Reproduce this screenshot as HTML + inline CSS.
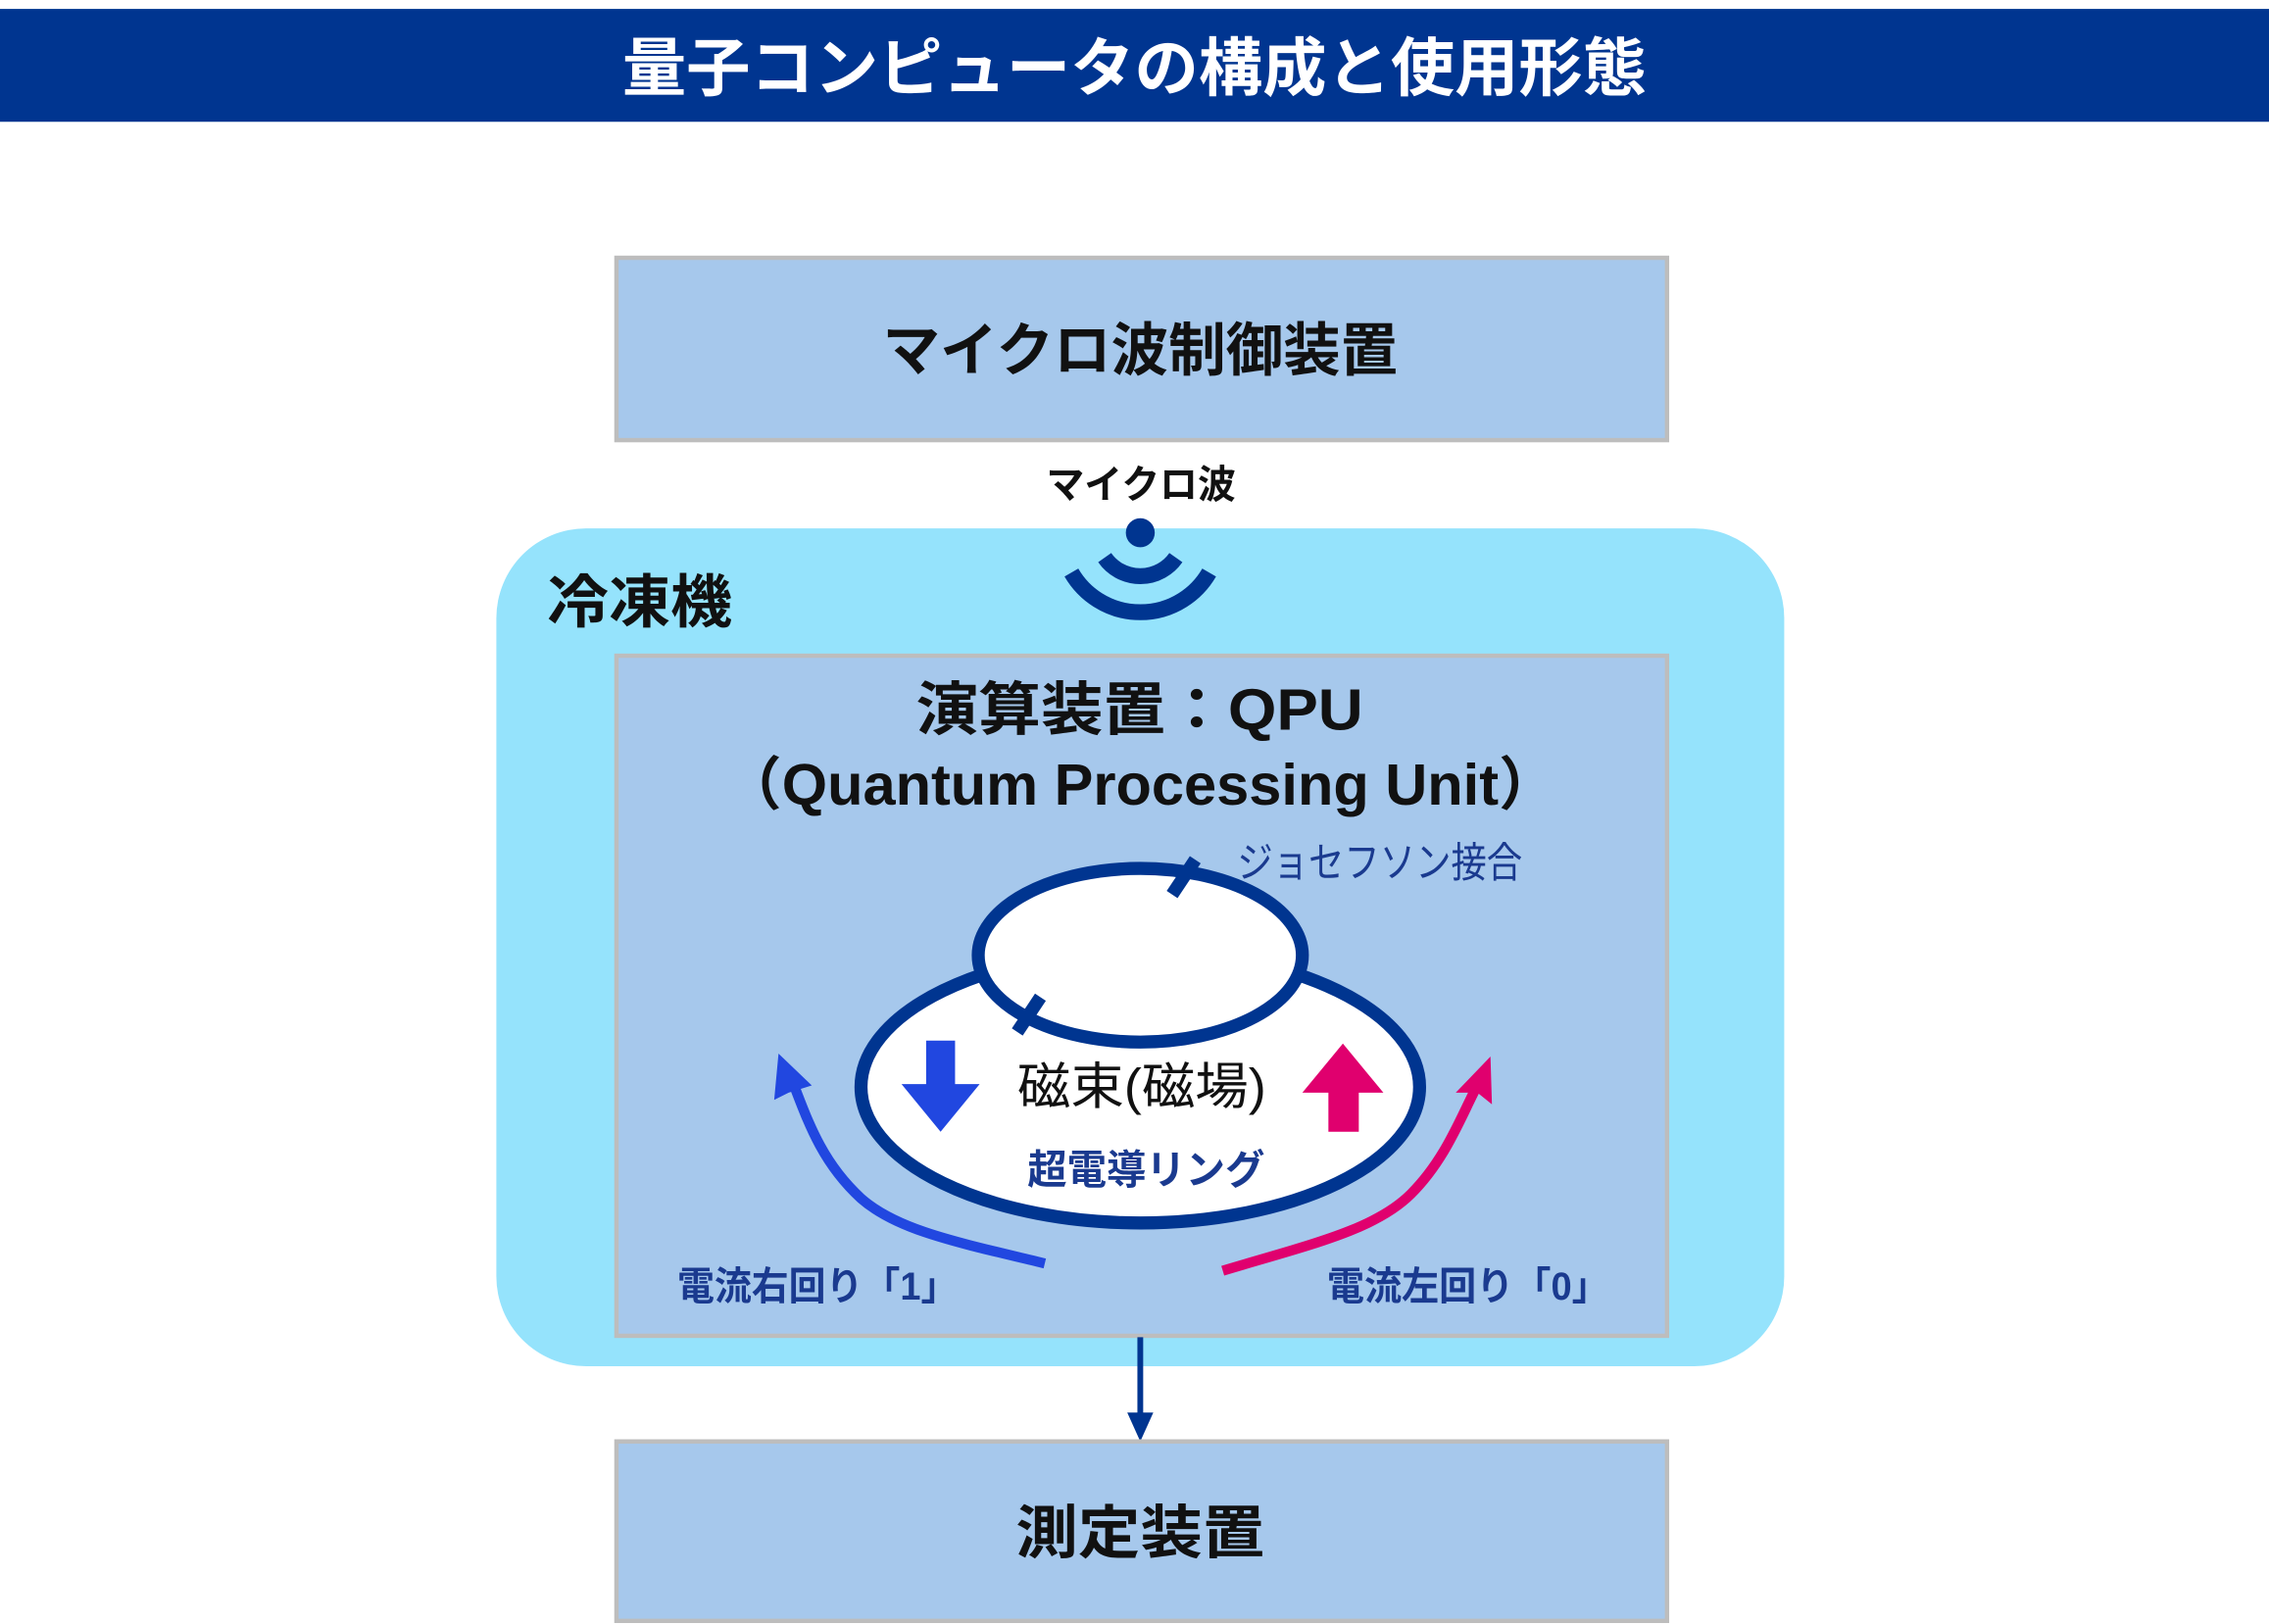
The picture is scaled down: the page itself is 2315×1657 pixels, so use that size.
<!DOCTYPE html>
<html><head><meta charset="utf-8"><style>
html,body{margin:0;padding:0;background:#fff}
svg{display:block}
text{font-family:"Liberation Sans","Noto Sans CJK JP",sans-serif}
</style></head><body>
<svg width="2315" height="1657" viewBox="0 0 1568 1122" xmlns="http://www.w3.org/2000/svg">
<rect x="0" y="6" width="1568" height="78" fill="#003590"/>
<text x="430" y="62" font-size="44" font-weight="bold" fill="#fff" textLength="708" lengthAdjust="spacingAndGlyphs">量子コンピュータの構成と使用形態</text>

<rect x="426" y="178" width="726" height="126" fill="#a6c8ec" stroke="#bdbdbd" stroke-width="3"/>
<text x="610" y="256" font-size="40" font-weight="bold" fill="#111" textLength="356" lengthAdjust="spacingAndGlyphs">マイクロ波制御装置</text>

<text x="723" y="344" font-size="27" font-weight="bold" fill="#111" textLength="131" lengthAdjust="spacingAndGlyphs">マイクロ波</text>

<rect x="343" y="365" width="890" height="579" rx="62" fill="#95e3fc"/>
<text x="378" y="430" font-size="40" font-weight="bold" fill="#111" textLength="128" lengthAdjust="spacingAndGlyphs">冷凍機</text>

<circle cx="788" cy="368" r="10" fill="#003590"/>
<path d="M763.4,385.2 A30,30 0 0 0 812.6,385.2" fill="none" stroke="#003590" stroke-width="11"/>
<path d="M740.4,395.5 A55,55 0 0 0 835.6,395.5" fill="none" stroke="#003590" stroke-width="11"/>

<rect x="426" y="453" width="726" height="470" fill="#a6c8ec" stroke="#bdbdbd" stroke-width="3"/>
<text x="633" y="504" font-size="40" font-weight="bold" fill="#111" textLength="309" lengthAdjust="spacingAndGlyphs">演算装置：QPU</text>
<text x="500" y="556" font-size="40" font-weight="bold" fill="#111" textLength="576" lengthAdjust="spacingAndGlyphs">（Quantum Processing Unit）</text>

<ellipse cx="788" cy="751" rx="193" ry="94" fill="#fff" stroke="#003590" stroke-width="9"/>
<ellipse cx="788" cy="660" rx="112" ry="60" fill="#fff" stroke="#003590" stroke-width="9"/>
<line x1="826" y1="594" x2="810" y2="618" stroke="#003590" stroke-width="9"/>
<line x1="719" y1="689" x2="703" y2="713" stroke="#003590" stroke-width="9"/>

<text x="855" y="606" font-size="29" fill="#1a3a8f" textLength="197" lengthAdjust="spacingAndGlyphs">ジョセフソン接合</text>

<polygon points="640,719 660,719 660,749 677,749 650,782 623,749 640,749" fill="#2147e0"/>
<polygon points="918,782 939,782 939,755 956,755 928,721 900,755 918,755" fill="#e0006e"/>

<text x="703" y="763" font-size="35" fill="#111" textLength="172" lengthAdjust="spacingAndGlyphs">磁束(磁場)</text>
<text x="710" y="818" font-size="28" font-weight="bold" fill="#1a3a8f" textLength="164" lengthAdjust="spacingAndGlyphs">超電導リング</text>

<path d="M722,873 C660,858 620,850 595,828 C570,805 560,780 548,748" fill="none" stroke="#2147e0" stroke-width="7"/>
<polygon points="538,728 561,750 545,755 535,760" fill="#2147e0"/>
<path d="M845,878 C905,860 950,850 975,825 C1000,800 1010,770 1022,748" fill="none" stroke="#e0006e" stroke-width="7"/>
<polygon points="1030,730 1031,763 1021,755 1006,755" fill="#e0006e"/>

<text x="468" y="898" font-size="27" font-weight="bold" fill="#1a3a8f" textLength="194" lengthAdjust="spacingAndGlyphs">電流右回り「1」</text>
<text x="917" y="898" font-size="27" font-weight="bold" fill="#1a3a8f" textLength="195" lengthAdjust="spacingAndGlyphs">電流左回り「0」</text>

<line x1="788" y1="924" x2="788" y2="978" stroke="#003590" stroke-width="4"/>
<polygon points="779,976 797,976 788,996" fill="#003590"/>

<rect x="426" y="996" width="726" height="124" fill="#a6c8ec" stroke="#bdbdbd" stroke-width="3"/>
<text x="702" y="1073" font-size="40" font-weight="bold" fill="#111" textLength="172" lengthAdjust="spacingAndGlyphs">測定装置</text>
</svg>
</body></html>
